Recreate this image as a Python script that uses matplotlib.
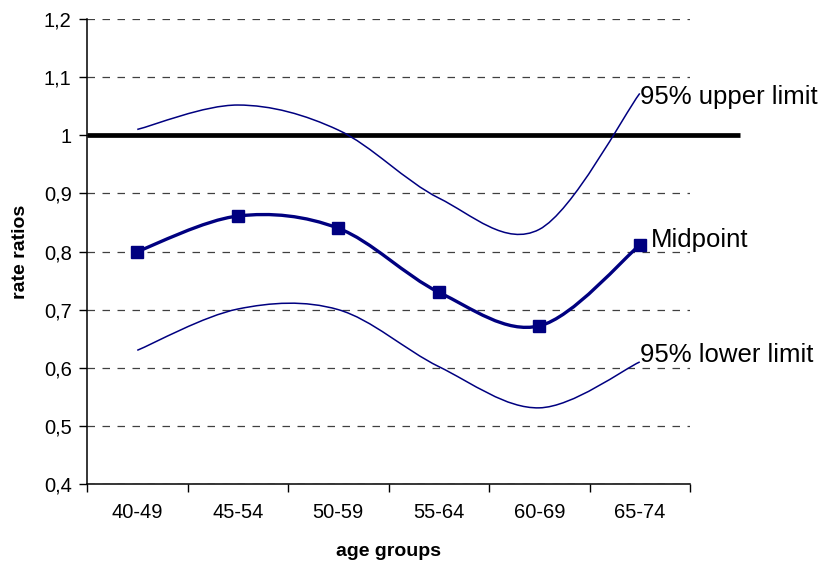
import matplotlib
matplotlib.use("Agg")
import matplotlib.pyplot as plt
from matplotlib.path import Path
from matplotlib.patches import PathPatch
from matplotlib.ticker import FixedLocator, FuncFormatter

categories = ["40-49", "45-54", "50-59", "55-64", "60-69", "65-74"]
upper = [1.01, 1.052, 1.009, 0.892, 0.838, 1.072]
midpoint = [0.80, 0.861, 0.840, 0.730, 0.672, 0.811]
lower = [0.630, 0.701, 0.700, 0.602, 0.531, 0.610]
y_ticks = [0.4, 0.5, 0.6, 0.7, 0.8, 0.9, 1.0, 1.1, 1.2]
reference_value = 1.0

NAVY = "#000080"

plt.rcParams["font.family"] = ["Liberation Sans", "DejaVu Sans"]

fig = plt.figure(figsize=(8.22, 5.61), dpi=100)
ax = fig.add_axes([87 / 822, 1 - 484 / 561, (690 - 87) / 822, (484 - 19) / 561])


def smooth_path(xs, ys):
    pts = list(zip(xs, ys))
    n = len(pts)
    verts = [pts[0]]
    codes = [Path.MOVETO]
    for i in range(n - 1):
        p0 = pts[max(i - 1, 0)]
        p1 = pts[i]
        p2 = pts[i + 1]
        p3 = pts[min(i + 2, n - 1)]
        c1 = (p1[0] + (p2[0] - p0[0]) / 6, p1[1] + (p2[1] - p0[1]) / 6)
        c2 = (p2[0] - (p3[0] - p1[0]) / 6, p2[1] - (p3[1] - p1[1]) / 6)
        verts += [c1, c2, p2]
        codes += [Path.CURVE4] * 3
    return Path(verts, codes)


xs = list(range(len(categories)))

for series, lw in ((upper, 1.1), (lower, 1.1), (midpoint, 2.4)):
    patch = PathPatch(smooth_path(xs, series), facecolor="none", edgecolor=NAVY,
                      linewidth=lw, transform=ax.transData, zorder=3,
                      capstyle="butt", joinstyle="round")
    ax.add_patch(patch)

ax.plot(xs, midpoint, linestyle="none", marker="s", markersize=8.2,
        color=NAVY, zorder=4)

# reference line at 1 extending beyond the plot area
ax.plot([-0.5, len(categories)], [reference_value, reference_value],
        color="black", linewidth=3.4, zorder=2, clip_on=False,
        solid_capstyle="butt")

ax.set_xlim(-0.5, len(categories) - 0.5)
ax.set_ylim(y_ticks[0], y_ticks[-1])

ax.yaxis.set_major_locator(FixedLocator(y_ticks))
ax.yaxis.set_major_formatter(FuncFormatter(
    lambda v, p: ("%g" % round(v, 1)).replace(".", ",")))
ax.grid(axis="y", linestyle=(0, (6, 6)), color="#404040", linewidth=0.9)
ax.set_axisbelow(True)

ax.set_xticks(xs)
ax.set_xticklabels(categories)
ax.set_xticks([i - 0.5 for i in range(len(categories) + 1)], minor=True)
ax.tick_params(axis="x", which="major", length=0, pad=14, labelsize=14.5)
ax.tick_params(axis="x", which="minor", length=6, width=1, direction="out")
ax.tick_params(axis="y", length=6, width=1, direction="out", pad=5,
               labelsize=14.5)

for s in ("top", "right"):
    ax.spines[s].set_visible(False)
for s in ("left", "bottom"):
    ax.spines[s].set_linewidth(1.1)

ax.set_xlabel("age groups", fontsize=14, fontweight="bold", labelpad=15)
ax.set_ylabel("rate ratios", fontsize=14, fontweight="bold", labelpad=11)

last = len(categories) - 1
ax.annotate("95% upper limit", (last, upper[-1]), xytext=(0, -4),
            textcoords="offset pixels", ha="left", va="center", fontsize=18.5)
ax.annotate("Midpoint", (last, midpoint[-1]), xytext=(11, 5),
            textcoords="offset pixels", ha="left", va="center", fontsize=18.5)
ax.annotate("95% lower limit", (last, lower[-1]), xytext=(0, 7),
            textcoords="offset pixels", ha="left", va="center", fontsize=18.5)

fig.savefig("out.png", dpi=100)
